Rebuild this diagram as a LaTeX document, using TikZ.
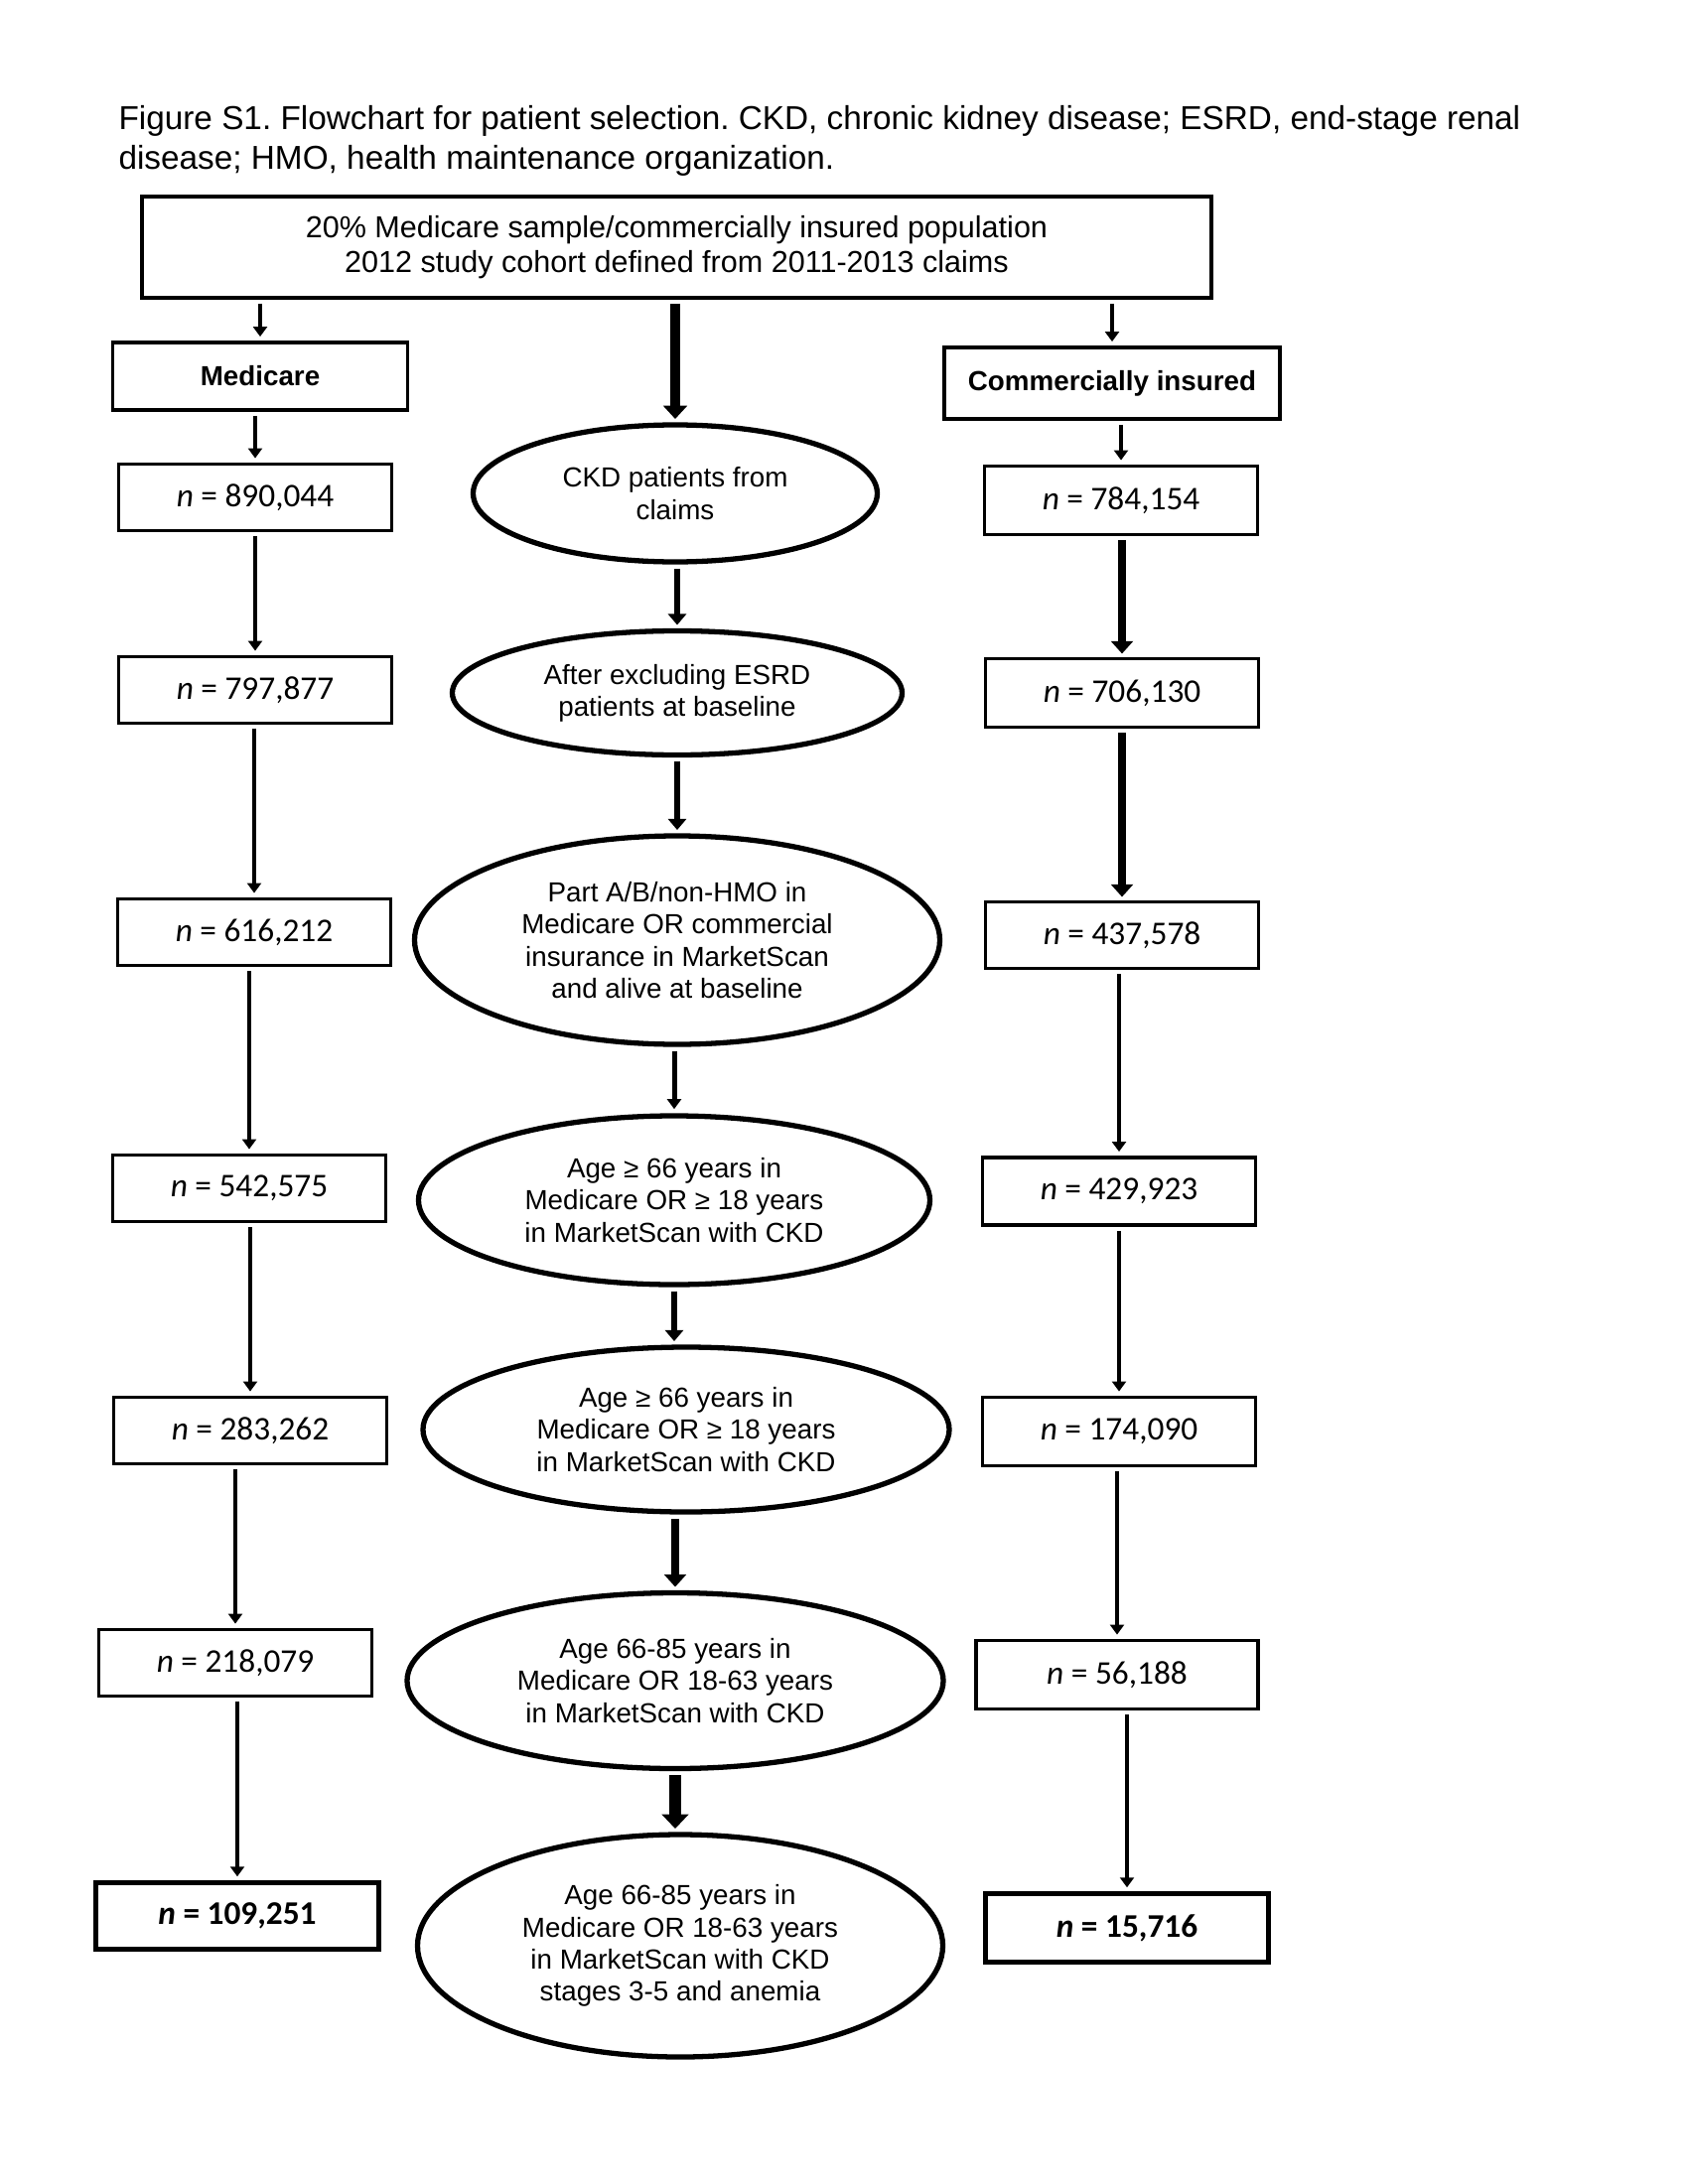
\documentclass[tikz,border=0pt]{standalone}
\usepackage{fontspec}
\setmainfont{Liberation Sans}
\newfontfamily\calib{Carlito}
\usetikzlibrary{shapes.geometric,arrows.meta}
\frenchspacing
\begin{document}
\begin{tikzpicture}[x=0.36pt,y=-0.36pt,
  captext/.style={anchor=base west,inner sep=0,font=\fontsize{12}{14}\selectfont},
  topbox/.style={draw,line width=1.25pt,inner sep=0,minimum width=1077*0.36pt,minimum height=102*0.36pt,align=center,font=\fontsize{11}{12.6}\selectfont},
  hdbox/.style={draw,line width=1.25pt,inner sep=0,minimum height=68*0.36pt,font=\fontsize{10}{12}\selectfont\bfseries},
  nbox/.style={draw,line width=1.25pt,inner sep=0,minimum width=275*0.36pt,minimum height=67*0.36pt,font=\calib\fontsize{12}{14}\selectfont},
  finbox/.style={nbox,line width=1.5pt,minimum width=285*0.36pt,font=\calib\fontsize{12}{14}\selectfont\bfseries},
  ell/.style={draw,ellipse,line width=1.9pt,inner sep=0,align=center,font=\fontsize{10}{11.6}\selectfont},
  thinarr/.style={line width=1.45pt,-{Triangle[width=5pt,length=3.6pt]},shorten <=1.5pt,shorten >=1.5pt},
  medarr/.style={line width=2.2pt,-{Triangle[width=6.5pt,length=4pt]},shorten <=1.5pt,shorten >=1.2pt},
  thkarr/.style={line width=3pt,-{Triangle[width=7.8pt,length=4.5pt]},shorten <=1.5pt,shorten >=1.2pt},
  hvyarr/.style={line width=3.6pt,-{Triangle[width=8.5pt,length=4.8pt]},shorten <=1.5pt,shorten >=1.2pt},
  xhvyarr/.style={line width=4.4pt,-{Triangle[width=9.5pt,length=5.2pt]},shorten <=1.5pt,shorten >=1.2pt}]
\useasboundingbox[fill=white] (0,0) rectangle (1700,2200);

% caption
\node[captext] (cap1) at (119,131) {Figure S1. Flowchart for patient selection. CKD, chronic kidney disease; ESRD, end-stage renal};
\node[captext] (cap2) at (119,171) {disease; HMO, health maintenance organization.};

% top
\node[topbox] (top) at (681.5,249) {20\% Medicare sample/commercially insured population\\2012 study cohort defined from 2011-2013 claims};
\node[hdbox,minimum width=297*0.36pt] (med) at (262,379) {Medicare};
\node[hdbox,minimum width=338*0.36pt,minimum height=72*0.36pt] (com) at (1120,386) {Commercially insured};

% left column
\node[nbox] (L1) at (257,501) {\textit{n} = 890,044};
\node[nbox] (L2) at (257,695) {\textit{n} = 797,877};
\node[nbox] (L3) at (256,939) {\textit{n} = 616,212};
\node[nbox] (L4) at (251,1197) {\textit{n} = 542,575};
\node[nbox] (L5) at (252,1441) {\textit{n} = 283,262};
\node[nbox] (L6) at (237,1675) {\textit{n} = 218,079};
\node[finbox] (L7) at (239,1930) {\textit{n} = 109,251};

% right column
\node[nbox,minimum height=69*0.36pt] (R1) at (1129,504) {\textit{n} = 784,154};
\node[nbox,minimum height=69*0.36pt] (R2) at (1130,698) {\textit{n} = 706,130};
\node[nbox] (R3) at (1130,942) {\textit{n} = 437,578};
\node[nbox,minimum height=68*0.36pt] (R4) at (1127,1200) {\textit{n} = 429,923};
\node[nbox,minimum height=69*0.36pt] (R5) at (1127,1442) {\textit{n} = 174,090};
\node[nbox,minimum width=284*0.36pt,minimum height=69*0.36pt] (R6) at (1125,1687) {\textit{n} = 56,188};
\node[finbox,minimum height=69*0.36pt] (R7) at (1135,1942) {\textit{n} = 15,716};

% centre column
\node[ell,minimum width=407*0.36pt,minimum height=138*0.36pt] (E1) at (680,497) {CKD patients from\\claims};
\node[ell,minimum width=453*0.36pt,minimum height=125*0.36pt] (E2) at (682,698) {After excluding ESRD\\patients at baseline};
\node[ell,minimum width=529*0.36pt,minimum height=210*0.36pt] (E3) at (682,947) {Part A/B/non-HMO in\\Medicare OR commercial\\insurance in MarketScan\\and alive at baseline};
\node[ell,minimum width=515*0.36pt,minimum height=170*0.36pt] (E4) at (679,1209) {Age ≥ 66 years in\\Medicare OR ≥ 18 years\\in MarketScan with CKD};
\node[ell,minimum width=530*0.36pt,minimum height=166*0.36pt] (E5) at (691,1440) {Age ≥ 66 years in\\Medicare OR ≥ 18 years\\in MarketScan with CKD};
\node[ell,minimum width=540*0.36pt,minimum height=177*0.36pt] (E6) at (680,1693) {Age 66-85 years in\\Medicare OR 18-63 years\\in MarketScan with CKD};
\node[ell,minimum width=529*0.36pt,minimum height=224*0.36pt] (E7) at (685,1960) {Age 66-85 years in\\Medicare OR 18-63 years\\in MarketScan with CKD\\stages 3-5 and anemia};

% arrows from top box
\draw[thinarr] (med.north |- top.south) -- (med.north);
\draw[thinarr] (com.north |- top.south) -- (com.north);
\draw[hvyarr] (E1.north |- top.south) -- (E1.north);

% left arrows
\draw[thinarr] (L1.north |- med.south) -- (L1.north);
\draw[thinarr] (L2.north |- L1.south) -- (L2.north);
\draw[thinarr] (L3.north |- L2.south) -- (L3.north);
\draw[thinarr] (L4.north |- L3.south) -- (L4.north);
\draw[thinarr] (L5.north |- L4.south) -- (L5.north);
\draw[thinarr] (L6.north |- L5.south) -- (L6.north);
\draw[thinarr] (L7.north |- L6.south) -- (L7.north);

% right arrows
\draw[thinarr] (R1.north |- com.south) -- (R1.north);
\draw[thkarr] (R2.north |- R1.south) -- (R2.north);
\draw[thkarr] (R3.north |- R2.south) -- (R3.north);
\draw[thinarr] (R4.north |- R3.south) -- (R4.north);
\draw[thinarr] (R5.north |- R4.south) -- (R5.north);
\draw[thinarr] (R6.north |- R5.south) -- (R6.north);
\draw[thinarr] (R7.north |- R6.south) -- (R7.north);

% centre arrows
\draw[medarr] (E2.north |- E1.south) -- (E2.north);
\draw[medarr] (E2.south) -- (E2.south |- E3.north);
\draw[thinarr,line width=1.8pt] (E4.north |- E3.south) -- (E4.north);
\draw[medarr,line width=2pt] (E4.south) -- (E4.south |- E5.north);
\draw[thkarr] (E6.north |- E5.south) -- (E6.north);
\draw[xhvyarr] (E6.south) -- (E6.south |- E7.north);
\end{tikzpicture}
\end{document}
